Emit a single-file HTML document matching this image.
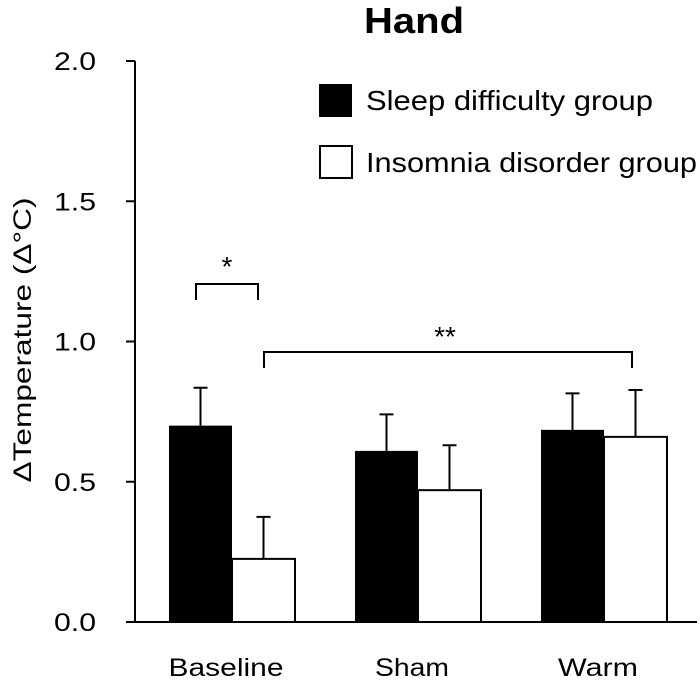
<!DOCTYPE html>
<html><head><meta charset="utf-8"><style>
html,body{margin:0;padding:0;background:#fff;width:700px;height:681px;overflow:hidden}
text{font-family:"Liberation Sans",sans-serif;fill:#000}
</style></head><body>
<svg id="chart" width="700" height="681" viewBox="0 0 700 681" xmlns="http://www.w3.org/2000/svg">
<text x="414" y="33" font-size="36" font-weight="bold" text-anchor="middle" textLength="100" lengthAdjust="spacingAndGlyphs">Hand</text>
<text transform="translate(31,340) rotate(-90)" font-size="25" text-anchor="middle" textLength="285" lengthAdjust="spacingAndGlyphs">ΔTemperature (Δ°C)</text>
<g id="axes"></g><g id="bars"></g>
<g>
<rect x="319" y="84" width="33" height="33" fill="#000"/>
<text x="366" y="110" font-size="28" textLength="287" lengthAdjust="spacingAndGlyphs">Sleep difficulty group</text>
<rect x="320" y="146" width="32" height="32" fill="#fff" stroke="#000" stroke-width="2"/>
<text x="366" y="172" font-size="28" textLength="331" lengthAdjust="spacingAndGlyphs">Insomnia disorder group</text>
</g>
<g>
<path d="M196 300 V284 H258 V300" fill="none" stroke="#000" stroke-width="2"/>
<text x="227" y="276" font-size="28" text-anchor="middle">*</text>
</g>
<g>
<path d="M264 368 V352 H632 V368" fill="none" stroke="#000" stroke-width="2"/>
<text x="445" y="346" font-size="28" text-anchor="middle">**</text>
</g>
</svg>
<script>
const categories = ["Baseline","Sham","Warm"];
const sleepDifficulty = [0.70, 0.61, 0.685];
const sleepDifficultyErr = [0.135, 0.13, 0.13];
const insomniaDisorder = [0.225, 0.47, 0.66];
const insomniaDisorderErr = [0.15, 0.16, 0.167];
const yTicks = [0, 0.5, 1.0, 1.5, 2.0];
const yTickLabels = ["0.0","0.5","1.0","1.5","2.0"];

const NS="http://www.w3.org/2000/svg";
const x0=135, x1=697, yZero=622, yTop=61, yMax=2.0;
function yScale(v){return yZero-(v/yMax)*(yZero-yTop);}
const groupStart=169, groupStep=186, barW=63;
function xBar(i,s){return groupStart+i*groupStep+s*barW;}
const labelW=[115,74,80];
function mk(tag,attrs,parent){const e=document.createElementNS(NS,tag);for(const k in attrs)e.setAttribute(k,attrs[k]);parent.appendChild(e);return e;}
const axes=document.getElementById('axes'), bars=document.getElementById('bars');
let e=mk('line',{x1:x0,y1:yScale(yMax),x2:x0,y2:yZero,stroke:'#000','stroke-width':2},axes);


e=mk('line',{x1:x0,y1:yZero,x2:x1,y2:yZero,stroke:'#000','stroke-width':2},axes);


yTicks.forEach((t,i)=>{
  const y=yScale(t);
  const l=mk('line',{x1:x0-9,y1:y,x2:x0,y2:y,stroke:'#000','stroke-width':2},axes);
  
  
  const tx=mk('text',{x:96,y:y+9,'font-size':25,'text-anchor':'end',textLength:42,lengthAdjust:'spacingAndGlyphs'},axes);
  tx.textContent=yTickLabels[i];
  
  
});
categories.forEach((c,i)=>{
  const tx=mk('text',{x:xBar(i,1)-6,y:676,'font-size':25,'text-anchor':'middle',textLength:labelW[i],lengthAdjust:'spacingAndGlyphs'},axes);
  tx.textContent=c;
  
  
  [[sleepDifficulty,sleepDifficultyErr,'#000'],[insomniaDisorder,insomniaDisorderErr,'#fff']].forEach((ser,s)=>{
    const v=ser[0][i], err=ser[1][i], x=xBar(i,s), y=yScale(v);
    const r=mk('rect',{x:x,y:y,width:barW,height:yZero-y,fill:ser[2],stroke:'#000','stroke-width':s?2:0},bars);
    
    
    const cx=x+barW/2, ye=yScale(v+err);
    const eb=mk('path',{d:`M${cx} ${y} V${ye} M${cx-7} ${ye} H${cx+7}`,stroke:'#000','stroke-width':2,fill:'none'},bars);
    
    
  });
});
</script>
</body></html>
